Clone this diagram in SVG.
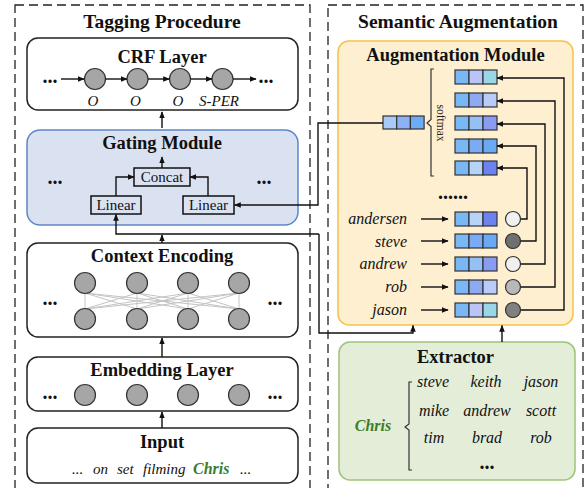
<svg xmlns="http://www.w3.org/2000/svg" width="587" height="488" viewBox="0 0 587 488">
<style>
.dash{fill:none;stroke:#222;stroke-width:1.3;stroke-dasharray:9,5}
.box{fill:#fff;stroke:#222;stroke-width:1.5}
.ttl{font-family:"Liberation Serif","Times New Roman",serif;font-weight:bold;font-size:18.5px;text-anchor:middle;fill:#111}
.big{font-family:"Liberation Serif","Times New Roman",serif;font-weight:bold;font-size:19.5px;text-anchor:middle;fill:#111}
.it{font-family:"Liberation Serif","Times New Roman",serif;font-style:italic;font-size:15px;fill:#111}
.w{font-family:"Liberation Serif","Times New Roman",serif;font-style:italic;font-size:16px;fill:#111}
.rm{font-family:"Liberation Serif","Times New Roman",serif;font-size:15px;text-anchor:middle;fill:#111}
.dots{font-family:"Liberation Serif","Times New Roman",serif;font-weight:bold;font-size:20px;text-anchor:middle;fill:#111}
.g{fill:#a6a6a6;stroke:#333;stroke-width:1.2}
.ln{fill:none;stroke:#111;stroke-width:1.4}
.thin{stroke:#c4c4c4;stroke-width:1}
.sm{fill:none;stroke:#111;stroke-width:1.5}
.v{stroke:#333;stroke-width:1.2}
.chris{font-family:"Liberation Serif","Times New Roman",serif;font-style:italic;font-weight:bold;font-size:16px;fill:#3e7d2a}
</style>
<defs>
<marker id="ah" viewBox="0 0 10 10" refX="9" refY="5" markerWidth="7" markerHeight="7" markerUnits="userSpaceOnUse" orient="auto">
<path d="M0,1 L10,5 L0,9 z" fill="#111"/>
</marker>
</defs>

<rect class="dash" x="15" y="5" width="295" height="500"/>
<rect class="dash" x="328" y="5" width="255" height="500"/>
<text class="big" x="162" y="28">Tagging Procedure</text>
<text class="big" x="458" y="28">Semantic Augmentation</text>

<g id="crf">
<rect class="box" x="27" y="38" width="271" height="72" rx="11"/>
<text class="ttl" x="162" y="63">CRF Layer</text>
<text class="dots" x="50" y="83">...</text>
<text class="dots" x="266" y="83">...</text>
<circle class="g" cx="95" cy="79" r="10.5"/>
<circle class="g" cx="137.5" cy="79" r="10.5"/>
<circle class="g" cx="180" cy="79" r="10.5"/>
<circle class="g" cx="222.5" cy="79" r="10.5"/>
<g class="ln" marker-end="url(#ah)">
<path d="M61 79 H84"/><path d="M105.5 79 H127"/><path d="M148 79 H169.5"/><path d="M190.5 79 H212"/><path d="M233 79 H256"/>
</g>
<g class="it" text-anchor="middle">
<text x="93" y="106">O</text><text x="135.5" y="106">O</text><text x="178" y="106">O</text><text x="219" y="106">S-PER</text>
</g>
</g>

<g id="gating">
<rect x="27" y="130" width="271" height="95" rx="13" fill="#dae2f1" stroke="#5b88c8" stroke-width="1.5"/>
<text class="ttl" x="162" y="149">Gating Module</text>
<text class="dots" x="55" y="184">...</text>
<text class="dots" x="264" y="184">...</text>
<rect class="sm" x="134" y="168" width="56" height="18" fill="#fff"/>
<text class="rm" x="162" y="182">Concat</text>
<rect class="sm" x="91" y="196" width="50" height="18" fill="#fff"/>
<text class="rm" x="116" y="210">Linear</text>
<rect class="sm" x="183" y="196" width="51" height="18" fill="#fff"/>
<text class="rm" x="208.5" y="210">Linear</text>
<g class="ln" marker-end="url(#ah)">
<path d="M116 196 V177 H134"/>
<path d="M208 196 V177 H190"/>
<path d="M162 168 V157"/>
</g>
</g>

<g id="context">
<rect class="box" x="27" y="243" width="271" height="94" rx="11"/>
<text class="ttl" x="162" y="262">Context Encoding</text>
<text class="dots" x="50" y="305">...</text>
<text class="dots" x="275" y="305">...</text>
<g class="thin">
<line x1="85" y1="293" x2="85" y2="309"/><line x1="85" y1="293" x2="137" y2="309"/><line x1="85" y1="293" x2="188" y2="309"/><line x1="85" y1="293" x2="239" y2="309"/>
<line x1="137" y1="293" x2="85" y2="309"/><line x1="137" y1="293" x2="137" y2="309"/><line x1="137" y1="293" x2="188" y2="309"/><line x1="137" y1="293" x2="239" y2="309"/>
<line x1="188" y1="293" x2="85" y2="309"/><line x1="188" y1="293" x2="137" y2="309"/><line x1="188" y1="293" x2="188" y2="309"/><line x1="188" y1="293" x2="239" y2="309"/>
<line x1="239" y1="293" x2="85" y2="309"/><line x1="239" y1="293" x2="137" y2="309"/><line x1="239" y1="293" x2="188" y2="309"/><line x1="239" y1="293" x2="239" y2="309"/>
</g>
<circle class="g" cx="85" cy="283" r="10.5"/><circle class="g" cx="137" cy="283" r="10.5"/><circle class="g" cx="188" cy="283" r="10.5"/><circle class="g" cx="239" cy="283" r="10.5"/>
<circle class="g" cx="85" cy="319" r="10.5"/><circle class="g" cx="137" cy="319" r="10.5"/><circle class="g" cx="188" cy="319" r="10.5"/><circle class="g" cx="239" cy="319" r="10.5"/>
</g>

<g id="embedding">
<rect class="box" x="27" y="357" width="271" height="54" rx="11"/>
<text class="ttl" x="162" y="376">Embedding Layer</text>
<text class="dots" x="50" y="399">...</text>
<text class="dots" x="275" y="399">...</text>
<circle class="g" cx="85" cy="395" r="10.5"/><circle class="g" cx="137" cy="395" r="10.5"/><circle class="g" cx="188" cy="395" r="10.5"/><circle class="g" cx="239" cy="395" r="10.5"/>
</g>

<g id="input">
<rect class="box" x="27" y="428" width="271" height="55" rx="11"/>
<text class="ttl" x="162" y="448">Input</text>
<text class="it" x="72" y="474">...</text>
<text class="it" x="93" y="474">on</text>
<text class="it" x="117" y="474">set</text>
<text class="it" x="143" y="474">filming</text>
<text class="chris" x="193" y="474">Chris</text>
<text class="it" x="240" y="474">...</text>
</g>

<g id="augmentation">
<rect x="338" y="41" width="235" height="284" rx="11" fill="#fdefd0" stroke="#f4c34a" stroke-width="1.5"/>
<text class="ttl" x="455.5" y="61">Augmentation Module</text>
<g class="v">
<rect x="383" y="116" width="13.7" height="13" fill="#a9c9f6"/><rect x="396.7" y="116" width="13.7" height="13" fill="#8cb2f5"/><rect x="410.4" y="116" width="13.7" height="13" fill="#6eabf5"/>
</g>
<path d="M434 69 H431 V119.5 L427 123 L431 126.5 V176 H434" fill="none" stroke="#333" stroke-width="1.2"/>
<text transform="translate(437 123) rotate(90)" font-family="Liberation Serif,Times New Roman,serif" font-size="11.5" text-anchor="middle" fill="#222">softmax</text>
<g class="v">
<rect x="455" y="70" width="14" height="14" fill="#7ab8f5"/><rect x="469" y="70" width="14" height="14" fill="#b9c5f6"/><rect x="483" y="70" width="14" height="14" fill="#98d6e8"/>
<rect x="455" y="93" width="14" height="14" fill="#7ab8f5"/><rect x="469" y="93" width="14" height="14" fill="#8faaf5"/><rect x="483" y="93" width="14" height="14" fill="#b9cbf6"/>
<rect x="455" y="116" width="14" height="14" fill="#7ab8f5"/><rect x="469" y="116" width="14" height="14" fill="#95c0f5"/><rect x="483" y="116" width="14" height="14" fill="#8a9cf2"/>
<rect x="455" y="139" width="14" height="14" fill="#7ab8f5"/><rect x="469" y="139" width="14" height="14" fill="#7aacf5"/><rect x="483" y="139" width="14" height="14" fill="#6aaaf5"/>
<rect x="455" y="161" width="14" height="14" fill="#7ab8f5"/><rect x="469" y="161" width="14" height="14" fill="#b5d4f7"/><rect x="483" y="161" width="14" height="14" fill="#6b82ef"/>
</g>
<text class="dots" x="453" y="199">......</text>
<g class="w" text-anchor="end">
<text x="407" y="224">andersen</text><text x="407" y="247">steve</text><text x="407" y="269">andrew</text><text x="407" y="292">rob</text><text x="407" y="315">jason</text>
</g>
<g class="ln" marker-end="url(#ah)">
<path d="M421 219 H448"/><path d="M421 241 H448"/><path d="M421 264 H448"/><path d="M421 287 H448"/><path d="M421 310 H448"/>
</g>
<g class="v">
<rect x="455" y="212" width="14" height="14" fill="#7ab8f5"/><rect x="469" y="212" width="14" height="14" fill="#b5d4f7"/><rect x="483" y="212" width="14" height="14" fill="#6b82ef"/>
<rect x="455" y="234" width="14" height="14" fill="#7ab8f5"/><rect x="469" y="234" width="14" height="14" fill="#7aacf5"/><rect x="483" y="234" width="14" height="14" fill="#6aaaf5"/>
<rect x="455" y="257" width="14" height="14" fill="#7ab8f5"/><rect x="469" y="257" width="14" height="14" fill="#95c0f5"/><rect x="483" y="257" width="14" height="14" fill="#8a9cf2"/>
<rect x="455" y="280" width="14" height="14" fill="#7ab8f5"/><rect x="469" y="280" width="14" height="14" fill="#8faaf5"/><rect x="483" y="280" width="14" height="14" fill="#b9cbf6"/>
<rect x="455" y="303" width="14" height="14" fill="#7ab8f5"/><rect x="469" y="303" width="14" height="14" fill="#b9c5f6"/><rect x="483" y="303" width="14" height="14" fill="#98d6e8"/>
</g>
<g class="ln" marker-end="url(#ah)">
<path d="M520 219 H527 V168 H497"/>
<path d="M520 241 H536 V146 H497"/>
<path d="M520 264 H545 V124 H497"/>
<path d="M520 287 H555 V101 H497"/>
<path d="M520 310 H564 V78 H497"/>
</g>
<g stroke="#333" stroke-width="1.2">
<circle cx="513" cy="219" r="7.5" fill="#f0f0f0"/>
<circle cx="513" cy="241" r="7.5" fill="#707070"/>
<circle cx="513" cy="264" r="7.5" fill="#f0f0f0"/>
<circle cx="513" cy="287" r="7.5" fill="#b8b8b8"/>
<circle cx="513" cy="310" r="7.5" fill="#808080"/>
</g>
</g>

<g id="extractor">
<rect x="339" y="342" width="236" height="138" rx="11" fill="#e3edd8" stroke="#9dc37b" stroke-width="1.5"/>
<text class="ttl" x="455.5" y="363">Extractor</text>
<text class="chris" x="373" y="431" text-anchor="middle">Chris</text>
<path d="M412 382 H409 V424 L405 427 L409 430 V470 H412" fill="none" stroke="#333" stroke-width="1.2"/>
<g class="w" text-anchor="middle">
<text x="433" y="387">steve</text><text x="486" y="387">keith</text><text x="541" y="387">jason</text>
<text x="434" y="416">mike</text><text x="487" y="416">andrew</text><text x="541" y="416">scott</text>
<text x="434" y="443">tim</text><text x="487" y="443">brad</text><text x="541" y="443">rob</text>
</g>
<text class="dots" x="487" y="469">...</text>
</g>

<g id="connectors" class="ln">
<path d="M162 128 V112" marker-end="url(#ah)"/>
<path d="M162 243 V235" marker-end="url(#ah)"/>
<path d="M319 234 H116 V214.5" marker-end="url(#ah)"/>
<path d="M319 234 V333 H413 V325.5" marker-end="url(#ah)"/>
<path d="M383 123 H318 V205 H234.5" marker-end="url(#ah)"/>
<path d="M502 342 V325.5" marker-end="url(#ah)"/>
<path d="M162 357 V338" marker-end="url(#ah)"/>
<path d="M162 428 V412" marker-end="url(#ah)"/>
</g>
</svg>
